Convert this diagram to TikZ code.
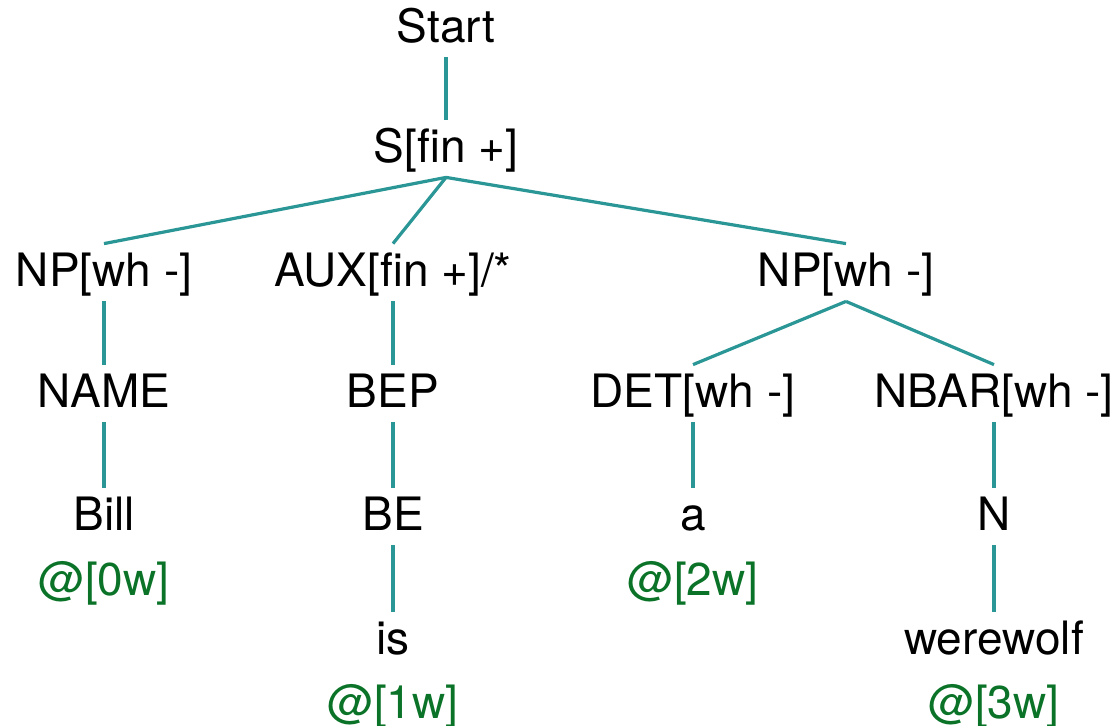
\documentclass[tikz,border=0pt]{standalone}
\usepackage{fontspec}
\setmainfont{TeX Gyre Heros}
\definecolor{edgeteal}{RGB}{42,150,150}
\definecolor{labgreen}{RGB}{10,115,40}
\begin{document}
\begin{tikzpicture}[x=0.5pt,y=-0.5pt,
  cat/.style={inner sep=0pt, text height=21pt, text depth=7.5pt,
    font=\fontsize{23}{27}\selectfont, anchor=base},
  wpos/.style={inner sep=0pt, font=\fontsize{23}{27}\selectfont,
    text=labgreen, anchor=base},
  branch/.style={draw=edgeteal, line width=1.6pt}]
\useasboundingbox (0,0) rectangle (1120,725);

% categories
\node[cat] (start) at (446,42)  {Start};
\node[cat] (s)     at (446,162) {S[fin +]};
\node[cat] (np1)   at (104,286) {NP[wh -]};
\node[cat] (aux)   at (393,286) {AUX[fin +]/*};
\node[cat] (np2)   at (846,286) {NP[wh -]};
\node[cat] (name)  at (104,407) {NAME};
\node[cat] (bep)   at (393,407) {BEP};
\node[cat] (det)   at (693,407) {DET[wh -]};
\node[cat] (nbar)  at (994,407) {NBAR[wh -]};
\node[cat] (bill)  at (104,530) {Bill};
\node[cat] (be)    at (393,530) {BE};
\node[cat] (a)     at (693,530) {a};
\node[cat] (n)     at (994,530) {N};
\node[cat] (is)    at (393,654) {is};
\node[cat] (wolf)  at (994,654) {werewolf};

% word positions
\node[wpos] (p0) at (104,595) {@[0w]};
\node[wpos] (p1) at (393,718) {@[1w]};
\node[wpos] (p2) at (693,595) {@[2w]};
\node[wpos] (p3) at (994,718) {@[3w]};

% branches
\draw[branch] (start.south) -- (s.north);
\draw[branch] (s.south) -- (np1.north);
\draw[branch] (s.south) -- (aux.north);
\draw[branch] (s.south) -- (np2.north);
\draw[branch] (np1.south) -- (name.north);
\draw[branch] (name.south) -- (bill.north);
\draw[branch] (aux.south) -- (bep.north);
\draw[branch] (bep.south) -- (be.north);
\draw[branch] (be.south) -- (is.north);
\draw[branch] (np2.south) -- (det.north);
\draw[branch] (np2.south) -- (nbar.north);
\draw[branch] (det.south) -- (a.north);
\draw[branch] (nbar.south) -- (n.north);
\draw[branch] (n.south) -- (wolf.north);
\end{tikzpicture}
\end{document}
